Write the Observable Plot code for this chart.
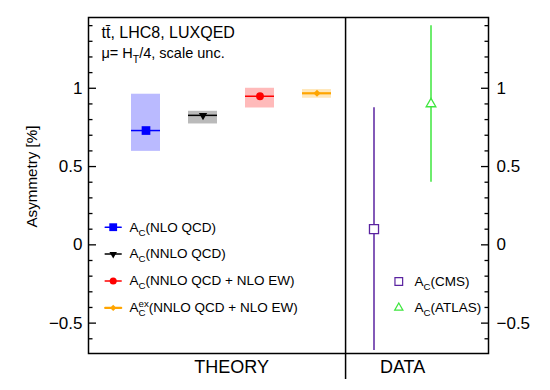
<!DOCTYPE html>
<html><head><meta charset="utf-8">
<script src="https://cdn.jsdelivr.net/npm/d3@7"></script>
<script src="https://cdn.jsdelivr.net/npm/@observablehq/plot@0.6"></script>
<style>
body{margin:0;background:#fff;}
#chart svg{font-family:"Liberation Sans",Arial,Helvetica,sans-serif;}
</style></head><body><div id="chart"></div>
<script>
// ---- data ----
const theoryKeys = ["nlo", "nnlo", "ew", "ex"];
const theoryValues = [0.73, 0.827, 0.949, 0.968];
const theoryLow = [0.597, 0.772, 0.874, 0.936];
const theoryHigh = [0.962, 0.853, 1.0, 0.992];
const theoryLabels = ["A_{C}(NLO QCD)", "A_{C}(NNLO QCD)", "A_{C}(NNLO QCD + NLO EW)", "A^{ex}_{C}(NNLO QCD + NLO EW)"];
const dataKeys = ["cms", "atlas"];
const dataValues = [0.10, 0.90];
const dataLow = [-0.675, 0.40];
const dataHigh = [0.875, 1.40];
const dataLabels = ["A_{C}(CMS)", "A_{C}(ATLAS)"];
const majorTicks = [-0.5, 0, 0.5, 1];
const majorTickLabels = ["\u22120.5", "0", "0.5", "1"];
const minorTicks = [-0.6, -0.4, -0.3, -0.2, -0.1, 0.1, 0.2, 0.3, 0.4, 0.6, 0.7, 0.8, 0.9, 1.1, 1.2, 1.3, 1.4];
const groupLabels = ["THEORY", "DATA"];
const groupAnchors = ["nnlo", "cms"];
const headerLines = ["tt\u0304, LHC8, LUXQED", "\u03bc= H_{T}/4, scale unc."];
const yLabel = "Asymmetry [%]";

// ---- styles ----
const theoryColors = ["#0000ff", "#000000", "#ff0000", "#ffa500"];
const theoryMarkers = [
  {symbol: "square", r: 4.9, rotate: 0},
  {symbol: "triangle", r: 3.1, rotate: 180},
  {symbol: "circle", r: 3.9, rotate: 0},
  {symbol: "diamond2", r: 3.2, rotate: 0}
];
const theoryLineWidths = [1.5, 1.5, 1.5, 2.2];
const dataColors = ["#5a23a0", "#3ee63e"];
const dataMarkers = [{symbol: "square", r: 5.1}, {symbol: "triangle", r: 3.6}];

const W = 550, H = 390, mL = 88, mR = 62, mT = 17, mB = 37;
const step = (W - mL - mR) / 7;
const FONT = 17;

const theory = theoryKeys.map((k, i) => ({key: k, value: theoryValues[i], lo: theoryLow[i], hi: theoryHigh[i]}));
const data = dataKeys.map((k, i) => ({key: k, value: dataValues[i], lo: dataLow[i], hi: dataHigh[i]}));

const hline = {draw(ctx, l) { ctx.moveTo(-l / 2, 0); ctx.lineTo(l / 2, 0); }};
const tickFmt = (d) => majorTickLabels[majorTicks.indexOf(d)];

const marks = [];
theory.forEach((d, i) => {
  marks.push(Plot.barY([d], {x: "key", y1: "lo", y2: "hi", fill: theoryColors[i], fillOpacity: 0.27}));
  marks.push(Plot.tickY([d], {x: "key", y: "value", stroke: theoryColors[i], strokeWidth: theoryLineWidths[i]}));
  marks.push(Plot.dot([d], {x: "key", y: "value", fill: theoryColors[i], stroke: "none", symbol: theoryMarkers[i].symbol, r: theoryMarkers[i].r, rotate: theoryMarkers[i].rotate}));
});
data.forEach((d, i) => {
  marks.push(Plot.ruleX([d], {x: "key", y1: "lo", y2: "hi", stroke: dataColors[i], strokeWidth: 1.5}));
  marks.push(Plot.dot([d], {x: "key", y: "value", fill: "white", stroke: dataColors[i], strokeWidth: 1.3, symbol: dataMarkers[i].symbol, r: dataMarkers[i].r}));
});
marks.push(Plot.ruleX([theoryKeys[3]], {dx: step / 2, insetBottom: -26, stroke: "black", strokeWidth: 1.5}));
marks.push(Plot.frame({stroke: "black", strokeWidth: 1.5}));
marks.push(Plot.axisY(majorTicks, {anchor: "left", tickSize: -8, tickPadding: 14, fontSize: FONT, label: null, strokeWidth: 1.3, tickFormat: tickFmt}));
marks.push(Plot.axisY(minorTicks, {anchor: "left", tickSize: -4.5, tickFormat: () => "", label: null, strokeWidth: 1.3}));
marks.push(Plot.axisY(majorTicks, {anchor: "right", tickSize: -8, tickPadding: 16, fontSize: FONT, label: null, strokeWidth: 1.3, tickFormat: tickFmt}));
marks.push(Plot.axisY(minorTicks, {anchor: "right", tickSize: -4.5, tickFormat: () => "", label: null, strokeWidth: 1.3}));
marks.push(Plot.text([yLabel], {frameAnchor: "left", rotate: -90, dx: -56, dy: -9, fontSize: 15.2, textAnchor: "middle", fill: "black"}));
groupLabels.forEach((g, i) => {
  marks.push(Plot.text([g], {x: () => groupAnchors[i], frameAnchor: "bottom", dx: step / 2, dy: 14, lineAnchor: "middle", textAnchor: "middle", fontSize: 18, fill: "black"}));
});
marks.push(Plot.text([headerLines[0]], {frameAnchor: "top-left", dx: 13, dy: 9, lineAnchor: "top", textAnchor: "start", fontSize: 16, fill: "black"}));
marks.push(Plot.text([headerLines[1]], {frameAnchor: "top-left", dx: 13, dy: 30.7, lineAnchor: "top", textAnchor: "start", fontSize: 14.5, fill: "black"}));
theoryLabels.forEach((lab, i) => {
  const dy = 209.7 + i * 26.9;
  marks.push(Plot.vector([0], {frameAnchor: "top-left", dx: 24.7, dy, length: 16, anchor: "start", shape: hline, stroke: theoryColors[i], strokeWidth: theoryLineWidths[i]}));
  marks.push(Plot.dot([0], {frameAnchor: "top-left", dx: 24.7, dy, fill: theoryColors[i], stroke: "none", symbol: theoryMarkers[i].symbol, r: theoryMarkers[i].r * 0.9, rotate: theoryMarkers[i].rotate}));
  marks.push(Plot.text([lab], {frameAnchor: "top-left", dx: 41, dy, lineAnchor: "middle", textAnchor: "start", fontSize: 13.5, fill: "black"}));
});
dataLabels.forEach((lab, i) => {
  const dy = 264 + i * 26.3;
  marks.push(Plot.dot([0], {frameAnchor: "top-left", dx: 310.3, dy, fill: "white", stroke: dataColors[i], strokeWidth: 1.2, symbol: dataMarkers[i].symbol, r: dataMarkers[i].r * 0.85}));
  marks.push(Plot.text([lab], {frameAnchor: "top-left", dx: 326, dy, lineAnchor: "middle", textAnchor: "start", fontSize: 13.5, fill: "black"}));
});

const chart = Plot.plot({
  width: W, height: H,
  marginLeft: mL, marginRight: mR, marginTop: mT, marginBottom: mB,
  style: {fontFamily: '"Liberation Sans", Arial, Helvetica, sans-serif', color: "black", background: "white"},
  x: {type: "band", domain: [...theoryKeys, ...dataKeys], paddingInner: 0.5, paddingOuter: 0.75, axis: null},
  y: {domain: [-0.694, 1.452], axis: null},
  marks
});
document.getElementById("chart").appendChild(chart);

// rich text: _{sub}, ^{sup}, ^{sup}_{sub}
function rich(el) {
  const s = el.textContent;
  if (!/[_^]\{/.test(s)) return;
  const fs = parseFloat(getComputedStyle(el).fontSize) || 13.5;
  const small = fs * 0.72;
  const ns = "http://www.w3.org/2000/svg";
  while (el.firstChild) el.removeChild(el.firstChild);
  let shift = 0, pendingDx = 0;
  const add = (txt, size, target, dx) => {
    const t = document.createElementNS(ns, "tspan");
    t.textContent = txt;
    t.setAttribute("font-size", size);
    const dy = target - shift;
    if (dy) t.setAttribute("dy", dy);
    if (dx) t.setAttribute("dx", dx);
    shift = target;
    el.appendChild(t);
    return t;
  };
  const re = /\^\{([^}]*)\}_\{([^}]*)\}|_\{([^}]*)\}|\^\{([^}]*)\}|([^_^]+)/g;
  let m;
  while ((m = re.exec(s))) {
    if (m[1] !== undefined) {
      const sup = add(m[1], small, -fs * 0.42);
      const w1 = sup.getComputedTextLength();
      const sub = add(m[2], small, fs * 0.3, -w1);
      const w2 = sub.getComputedTextLength();
      pendingDx = Math.max(0, w1 - w2);
    } else if (m[3] !== undefined) add(m[3], small, fs * 0.3);
    else if (m[4] !== undefined) add(m[4], small, -fs * 0.42);
    else { add(m[5], fs, 0, pendingDx); pendingDx = 0; }
  }
}
chart.querySelectorAll("text").forEach(rich);
</script></body></html>
